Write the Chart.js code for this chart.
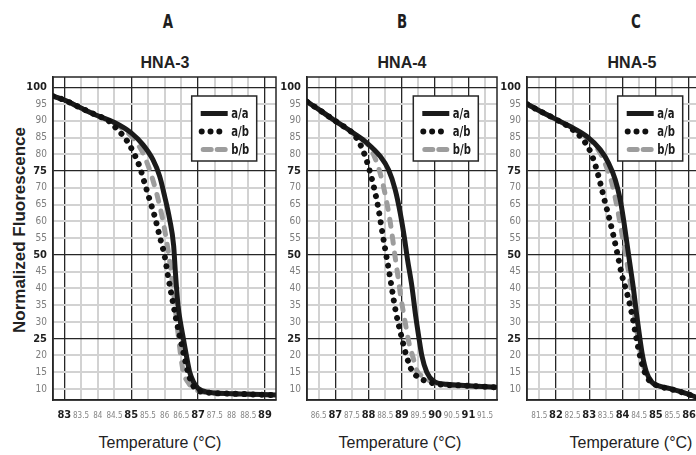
<!DOCTYPE html>
<html>
<head>
<meta charset="utf-8">
<script src="https://cdn.jsdelivr.net/npm/chart.js@4.4.1/dist/chart.umd.min.js"></script>
<style>
  html, body { margin: 0; padding: 0; overflow: hidden; }
  body { width: 696px; height: 455px; position: relative; background: #fff;
         font-family: 'Liberation Sans', Arial, sans-serif; color: #222; }
  canvas { position: absolute; top: 0; }
  .t { position: absolute; transform: translate(-50%, -50%); line-height: 1; white-space: nowrap; }
  .panel { font-family: 'Liberation Sans Narrow', 'DejaVu Sans Condensed', 'Arial Narrow', sans-serif;
           font-weight: bold; font-size: 19px; color: #1e1e1e;
           transform: translate(-50%, -50%) scale(0.78, 1.02); }
  .gene { font-weight: bold; font-size: 16px; color: #222; }
  .xt { font-size: 16px; color: #222; }
  .yt { font-weight: bold; font-size: 17px; color: #222; transform: translate(-50%, -50%) rotate(-90deg); }
</style>
</head>
<body>
<div class="t panel" style="left:168px;top:21px">A</div>
<div class="t panel" style="left:402px;top:21px">B</div>
<div class="t panel" style="left:636px;top:21px">C</div>
<div class="t gene" style="left:165px;top:63px">HNA-3</div>
<div class="t gene" style="left:402px;top:63px">HNA-4</div>
<div class="t gene" style="left:632px;top:63px">HNA-5</div>
<div class="t yt" style="left:19px;top:230px">Normalized Fluorescence</div>
<div class="t xt" style="left:160px;top:443px">Temperature (°C)</div>
<div class="t xt" style="left:400px;top:443px">Temperature (°C)</div>
<div class="t xt" style="left:631px;top:443px">Temperature (°C)</div>

<canvas id="hna3" width="290" height="455" style="left:0px"></canvas>
<canvas id="hna4" width="250" height="455" style="left:254px"></canvas>
<canvas id="hna5" width="270" height="455" style="left:474px"></canvas>

<script>
// data
const genotypes = ['a/a', 'a/b', 'b/b'];
const yTicks = [10, 15, 20, 25, 30, 35, 40, 45, 50, 55, 60, 65, 70, 75, 80, 85, 90, 95, 100];
const yMajor = [25, 50, 75, 100];

const hna3Ticks = [83, 83.5, 84, 84.5, 85, 85.5, 86, 86.5, 87, 87.5, 88, 88.5, 89];
const hna3Major = [83, 85, 87, 89];
const hna4Ticks = [86.5, 87, 87.5, 88, 88.5, 89, 89.5, 90, 90.5, 91, 91.5];
const hna4Major = [87, 88, 89, 90, 91];
const hna5Ticks = [81.5, 82, 82.5, 83, 83.5, 84, 84.5, 85, 85.5, 86, 86.5, 87];
const hna5Major = [82, 83, 84, 85, 86, 87];

// HNA-3 melt curves [temp, fluorescence]
const hna3_aa = [[82.66, 97.4], [83, 96.2], [83.5, 93.8], [84, 91.5], [84.5, 89.5], [85, 86.4], [85.35, 82.9],
  [85.65, 78.4], [85.85, 73.5], [86.0, 67.5], [86.15, 60.6], [86.27, 52.7], [86.32, 45], [86.4, 35], [86.47, 30],
  [86.56, 25], [86.65, 20], [86.75, 15], [86.87, 12], [87, 10.2], [87.25, 9.1], [88, 8.6], [89.33, 8.2]];
const hna3_ab = [[82.66, 97.4], [83, 96.2], [83.5, 93.8], [84, 91.5], [84.3, 90.2], [84.55, 87.8], [84.85, 84.4],
  [85.05, 80.9], [85.25, 76.4], [85.4, 71.5], [85.55, 66.5], [85.7, 61.6], [85.85, 55.6], [86.0, 49.7], [86.1, 43.8],
  [86.23, 36.8], [86.35, 30.5], [86.47, 25], [86.58, 20], [86.7, 15], [86.8, 12], [86.93, 10], [87.25, 9.0],
  [88, 8.6], [89.33, 8.2]];
const hna3_bb = [[82.66, 97.4], [83, 96.2], [83.5, 93.8], [84, 91.5], [84.5, 89.2], [84.8, 87.2], [85.05, 84.9],
  [85.35, 80.4], [85.55, 75.4], [85.73, 69.5], [85.9, 62.6], [86.05, 54.7], [86.17, 46.7], [86.27, 38.8],
  [86.35, 31], [86.42, 25], [86.48, 20], [86.56, 15], [86.7, 12], [86.85, 10.3], [87.1, 9.2], [88, 8.6], [89.33, 8.2]];

// HNA-4
const hna4_aa = [[86.15, 95.7], [86.5, 93.4], [86.95, 90.3], [87.3, 88.0], [87.55, 86.3], [87.95, 83.4],
  [88.35, 79.4], [88.6, 75.4], [88.8, 69.5], [88.95, 62.6], [89.07, 55.6], [89.17, 48.7], [89.3, 40.8],
  [89.42, 31.5], [89.51, 25.5], [89.6, 20], [89.75, 15], [89.95, 12.4], [90.35, 11.4], [90.95, 11.0], [91.86, 10.5]];
const hna4_ab = [[86.15, 95.7], [86.5, 93.4], [86.95, 90.3], [87.3, 88.0], [87.45, 87.0], [87.7, 83.9],
  [87.9, 79.4], [88.05, 74.5], [88.2, 68.5], [88.3, 63.6], [88.4, 57.6], [88.5, 51.7], [88.6, 46], [88.7, 40],
  [88.82, 33], [88.98, 26], [89.12, 20.5], [89.3, 15.5], [89.5, 13.5], [89.75, 12.3], [90.05, 11.5],
  [90.95, 11.0], [91.86, 10.5]];
const hna4_bb = [[86.15, 95.7], [86.5, 93.4], [86.95, 90.3], [87.3, 88.0], [87.55, 86.3], [87.75, 84.9],
  [88.05, 81.9], [88.25, 77.4], [88.4, 72.5], [88.55, 65.5], [88.67, 58.6], [88.78, 50.7], [88.88, 43.8],
  [88.98, 36.8], [89.1, 29.9], [89.22, 23.5], [89.32, 20], [89.45, 15.5], [89.62, 13.8], [89.85, 12.4],
  [90.15, 11.5], [90.95, 11.0], [91.86, 10.5]];

// HNA-5
const hna5_aa = [[81.13, 95.0], [81.5, 93.0], [81.93, 90.8], [82.43, 88.3], [82.93, 85.3], [83.33, 81.4],
  [83.58, 77.4], [83.78, 72.5], [83.93, 66.5], [84.03, 60.6], [84.13, 53.7], [84.23, 46.7], [84.33, 39.8],
  [84.42, 32.5], [84.51, 25.9], [84.6, 20], [84.72, 15], [84.88, 12.1], [85.03, 11.1], [85.43, 10.1],
  [85.93, 8.6], [86.2, 7.6], [86.6, 6.5]];
const hna5_ab = [[81.13, 95.0], [81.5, 93.0], [81.93, 90.8], [82.43, 87.9], [82.78, 84.8], [83.03, 80.9],
  [83.18, 76.9], [83.33, 71.5], [83.48, 65.5], [83.61, 60.6], [83.73, 55.6], [83.86, 49.7], [83.98, 44],
  [84.15, 38], [84.3, 31.5], [84.4, 26], [84.5, 21], [84.6, 17], [84.73, 13.6], [84.93, 11.6], [85.1, 10.8],
  [85.43, 10.0], [85.93, 8.6], [86.2, 7.6], [86.6, 6.5]];
const hna5_bb = [[81.13, 95.0], [81.5, 93.0], [81.93, 90.8], [82.43, 88.1], [82.93, 85.0], [83.33, 80.4],
  [83.51, 76.4], [83.68, 71.5], [83.83, 64.6], [83.96, 57.6], [84.08, 50.7], [84.2, 43.8], [84.3, 36.8],
  [84.4, 29.9], [84.5, 23], [84.6, 18], [84.72, 14], [84.9, 11.8], [85.05, 11], [85.43, 10.1], [85.93, 8.6],
  [86.2, 7.6], [86.6, 6.5]];

// styles
const narrow = "'Liberation Sans Narrow','DejaVu Sans Condensed','Arial Narrow',sans-serif";
const dark = '#262626';
const light = '#d2d2d2';
const styles = [
  { borderColor: '#1b1b1b', borderWidth: 5, borderDash: [], borderCapStyle: 'butt', order: 1 },
  { borderColor: '#111111', borderWidth: 6, borderDash: [0.01, 8.8], borderCapStyle: 'round', order: 0 },
  { borderColor: '#9d9d9d', borderWidth: 5, borderDash: [7, 10], borderCapStyle: 'round', order: 2 }
];

// frame round the plot area (Chart.js only draws the axis sides)
const frame = {
  id: 'frame',
  beforeDatasetsDraw(chart) {
    const a = chart.chartArea, c = chart.ctx;
    c.save();
    c.strokeStyle = dark;
    c.lineWidth = 1.5;
    c.strokeRect(a.left, a.top, a.right - a.left, a.bottom - a.top);
    c.restore();
  }
};

// boxed legend inside the plot
const boxLegend = (dx) => ({
  id: 'boxLegend',
  afterDatasetsDraw(chart) {
    const a = chart.chartArea, c = chart.ctx;
    const x = a.left + dx, y = a.top + 19, w = 65, h = 65;
    c.save();
    c.fillStyle = '#fff';
    c.fillRect(x, y, w, h);
    c.strokeStyle = dark;
    c.lineWidth = 1.5;
    c.strokeRect(x, y, w, h);
    chart.data.datasets.forEach((ds, i) => {
      const ry = y + 17.5 + i * 18;
      c.beginPath();
      c.strokeStyle = ds.borderColor;
      c.lineWidth = ds.borderWidth;
      c.lineCap = ds.borderCapStyle;
      if (i === 2) {
        c.setLineDash([8, 6]);
        c.moveTo(x + 11.5, ry);
      } else {
        c.setLineDash(ds.borderDash);
        c.moveTo(x + (i === 1 ? 10 : 9), ry);
      }
      c.lineTo(x + 36, ry);
      c.stroke();
      c.setLineDash([]);
      // narrow the label a little, the original uses a condensed face
      c.save();
      c.translate(x + 39.5, ry + 0.5);
      c.scale(0.8, 1.05);
      c.fillStyle = '#1b1b1b';
      c.font = 'bold 14px ' + narrow;
      c.textBaseline = 'middle';
      c.fillText(ds.label, 0, 0);
      c.restore();
    });
    c.restore();
  }
});

const makePanel = (id, series, xMin, xMax, xTicks, xMajor, legendX, padRight) => {
  const datasets = series.map((pts, i) => Object.assign({
    label: genotypes[i],
    data: pts.map(p => ({ x: p[0], y: p[1] })),
    pointRadius: 0,
    fill: false,
    cubicInterpolationMode: 'monotone'
  }, styles[i]));

  new Chart(document.getElementById(id), {
    type: 'line',
    data: { datasets: datasets },
    options: {
      responsive: false,
      animation: false,
      events: [],
      layout: { padding: { left: 0, right: padRight, top: 77, bottom: 0 } },
      plugins: { legend: { display: false }, tooltip: { enabled: false } },
      scales: {
        x: {
          type: 'linear',
          min: xMin,
          max: xMax,
          afterBuildTicks: s => { s.ticks = xTicks.map(v => ({ value: v })); },
          afterFit: s => { s.height = 55; },
          border: { display: true, color: dark, width: 1.5 },
          grid: {
            drawTicks: false,
            color: ctx => (ctx.tick && xMajor.includes(ctx.tick.value)) ? dark : light,
            lineWidth: ctx => (ctx.tick && xMajor.includes(ctx.tick.value)) ? 1.3 : 2
          },
          ticks: {
            autoSkip: false,
            maxRotation: 0,
            padding: 9,
            callback: v => String(v),
            color: ctx => (ctx.tick && xMajor.includes(ctx.tick.value)) ? '#1e1e1e' : '#858585',
            font: ctx => (ctx.tick && xMajor.includes(ctx.tick.value))
              ? { family: narrow, size: 11, weight: 'bold', lineHeight: '12px' }
              : { family: narrow, size: 8, weight: 'normal', lineHeight: '14px' }
          }
        },
        y: {
          min: 6.72,
          max: 103.07,
          afterBuildTicks: s => { s.ticks = yTicks.map(v => ({ value: v })); },
          afterFit: s => { s.width = 53; },
          border: { display: true, color: dark, width: 1.5 },
          grid: {
            drawTicks: false,
            color: ctx => (ctx.tick && yMajor.includes(ctx.tick.value)) ? dark : light,
            lineWidth: ctx => (ctx.tick && yMajor.includes(ctx.tick.value)) ? 1.3 : 2
          },
          ticks: {
            autoSkip: false,
            padding: 6,
            color: ctx => (ctx.tick && yMajor.includes(ctx.tick.value)) ? '#1e1e1e' : '#7d7d7d',
            font: ctx => (ctx.tick && yMajor.includes(ctx.tick.value))
              ? { family: narrow, size: 11, weight: 'bold' }
              : { family: narrow, size: 10, weight: 'normal' }
          }
        }
      }
    },
    plugins: [frame, boxLegend(legendX)]
  });
};

makePanel('hna3', [hna3_aa, hna3_ab, hna3_bb], 82.662, 89.33, hna3Ticks, hna3Major, 138.7, 14);
makePanel('hna4', [hna4_aa, hna4_ab, hna4_bb], 86.15, 91.86, hna4Ticks, hna4Major, 106.3, 7);
makePanel('hna5', [hna5_aa, hna5_ab, hna5_bb], 81.13, 87.44, hna5Ticks, hna5Major, 90.7, 7);
</script>
</body>
</html>
